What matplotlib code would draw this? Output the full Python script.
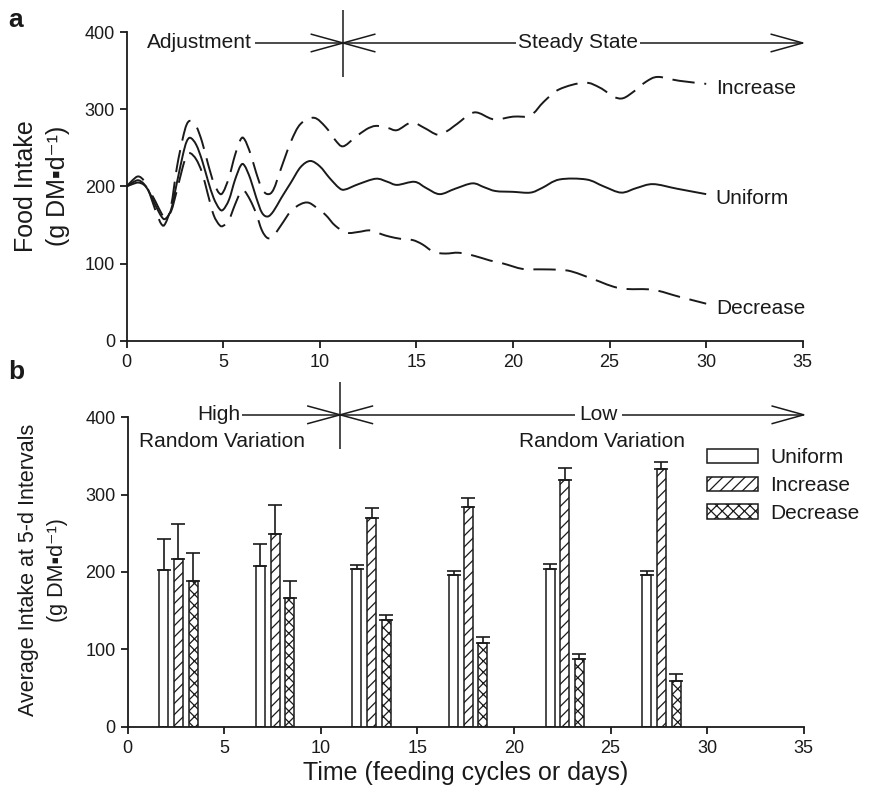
import numpy as np
import matplotlib
matplotlib.use("Agg")
import matplotlib.pyplot as plt
from matplotlib.path import Path
from matplotlib.patches import PathPatch

plt.rcParams['font.family'] = ['Liberation Sans', 'DejaVu Sans']
plt.rcParams['hatch.linewidth'] = 0.9
INK = '#1a1a1a'

# ---- Panel a: daily food intake (g DM per day) ----
uniform_t = [0, 0.3, 0.6, 0.9, 1.2, 1.5, 1.8, 2.0, 2.3, 2.6, 2.9, 3.1, 3.3, 3.6, 3.9, 4.2,
             4.5, 4.8, 5.0, 5.3, 5.6, 5.9, 6.1, 6.4, 6.7, 7.0, 7.3, 7.6, 8.0, 8.5, 9.0, 9.5,
             10.0, 10.5, 11.0, 11.3, 12.0, 12.9, 13.5, 14.0, 14.9, 15.5, 16.2, 17.0, 17.9,
             18.5, 19.1, 20.0, 20.9, 21.5, 22.4, 23.8, 24.7, 25.6, 26.4, 27.25, 28.5, 30.0]
uniform_y = [200, 205, 208, 203, 191, 175, 161, 158, 170, 205, 240, 258, 263, 254, 234, 208,
             185, 171, 170, 183, 208, 227, 227, 210, 186, 166, 161, 168, 185, 205, 225, 233,
             226, 211, 198, 196, 203, 210, 206, 202, 206, 198, 190, 197, 204,
             199, 194, 193, 192, 198, 209, 209, 200, 192, 198, 203, 197, 190]

increase_t = [0, 0.3, 0.6, 0.9, 1.2, 1.5, 1.8, 2.0, 2.3, 2.6, 2.9, 3.1, 3.3, 3.6, 3.9, 4.2,
              4.5, 4.8, 5.0, 5.3, 5.6, 5.9, 6.1, 6.4, 6.7, 7.0, 7.3, 7.6, 8.0, 8.5, 9.0, 9.7,
              10.3, 10.8, 11.2, 11.8, 12.4, 12.9, 13.5, 14.0, 14.75, 15.4, 16.1, 16.6, 17.1,
              18.0, 19.0, 20.0, 20.9, 21.6, 22.4, 23.7, 24.5, 25.2, 25.7, 26.3, 26.9, 27.5,
              28.6, 30.0]
increase_y = [200, 208, 213, 207, 190, 168, 151, 152, 175, 225, 262, 280, 285, 278, 258, 230,
              205, 191, 193, 212, 240, 261, 261, 243, 218, 197, 190, 196, 224, 258, 281, 289,
              277, 260, 252, 263, 274, 278.5, 276, 273, 283, 276, 267, 272, 281,
              296, 287, 290.5, 292, 310, 326, 334.6, 328, 316.5, 314.4, 324, 336, 342,
              337, 333]

decrease_t = [0, 0.3, 0.6, 0.9, 1.2, 1.5, 1.8, 2.0, 2.3, 2.6, 2.9, 3.1, 3.3, 3.6, 3.9, 4.2,
              4.5, 4.8, 5.0, 5.3, 5.6, 5.9, 6.1, 6.4, 6.7, 7.0, 7.3, 7.6, 8.0, 8.5, 9.0, 9.4,
              9.8, 10.3, 10.8, 11.4, 12.0, 12.6, 13.2, 13.6, 14.2, 14.8, 15.3, 15.9, 16.5,
              17.2, 18.0, 18.8, 19.5, 20.5, 21.4, 22.4, 23.0, 23.7, 24.5, 25.2, 25.9, 27.25,
              28.6, 30.0]
decrease_y = [200, 203, 205, 202, 193, 180, 165, 160, 168, 195, 225, 240, 243, 235, 218, 190,
              163, 150, 149, 157, 176, 193, 194, 182, 165, 143, 133, 136, 150, 168, 177, 179,
              173, 163, 149, 140, 141, 143, 138, 135, 132, 130.5, 125, 115, 113,
              114, 110, 104, 100, 93, 92.5, 92, 90, 84, 76.5, 70, 67, 66,
              57, 48]

# ---- Panel b: average intake over 5-day intervals ----
series_names = ['Uniform', 'Increase', 'Decrease']
group_x = [2.63, 7.63, 12.63, 17.63, 22.63, 27.63]
uniform_mean = [202, 207, 204, 196, 203.5, 196]
uniform_err = [40, 29.6, 4.6, 5, 7.3, 5]
increase_mean = [217, 249.6, 270, 284.5, 319, 333]
increase_err = [45, 37.4, 12, 11.5, 15.5, 8.4]
decrease_mean = [188, 166, 138, 108, 87, 59.5]
decrease_err = [37, 22.4, 6.4, 7.5, 7, 8.2]

x_ticks = [0, 5, 10, 15, 20, 25, 30, 35]
y_ticks = [0, 100, 200, 300, 400]
unit_label = '(g DM\u25aad\u207b\u00b9)'

fig = plt.figure(figsize=(8.69, 7.85), dpi=100)
ax_a = fig.add_axes([0.1458, 0.566, 0.778, 0.393])
ax_b = fig.add_axes([0.1469, 0.0743, 0.778, 0.3943])


def style_axes(ax):
    ax.set_xlim(0, 35)
    ax.set_ylim(0, 400)
    ax.set_xticks(x_ticks)
    ax.set_yticks(y_ticks)
    for side in ('top', 'right'):
        ax.spines[side].set_visible(False)
    for side in ('left', 'bottom'):
        ax.spines[side].set_linewidth(1.3)
        ax.spines[side].set_color(INK)
    ax.tick_params(axis='both', direction='out', length=5, width=1.3, color=INK,
                   labelsize=13, labelcolor=INK)
    ax.tick_params(axis='x', pad=4.5)
    ax.tick_params(axis='y', pad=3.5)


style_axes(ax_a)
style_axes(ax_b)


def smooth_curve(ax, xs, ys, **kw):
    """Draw a smooth line through the points as a chain of cubic Bezier segments."""
    p = np.column_stack([xs, ys]).astype(float)
    ext = np.vstack([p[0], p, p[-1]])
    verts = [p[0]]
    codes = [Path.MOVETO]
    for i in range(1, len(ext) - 2):
        c1 = ext[i] + (ext[i + 1] - ext[i - 1]) / 6.0
        c2 = ext[i + 1] - (ext[i + 2] - ext[i]) / 6.0
        verts += [c1, c2, ext[i + 1]]
        codes += [Path.CURVE4] * 3
    patch = PathPatch(Path(verts, codes), facecolor='none', edgecolor=INK,
                      transform=ax.transData, capstyle='butt', **kw)
    ax.add_patch(patch)


# Panel a curves
dash = (0, (11.5, 5))
smooth_curve(ax_a, uniform_t, uniform_y, lw=1.4)
smooth_curve(ax_a, increase_t, increase_y, lw=1.4, linestyle=dash)
smooth_curve(ax_a, decrease_t, decrease_y, lw=1.4, linestyle=dash)

label_fs = 15
ax_a.text(30.5, 326.5, 'Increase', fontsize=label_fs, color=INK, va='center', ha='left')
ax_a.text(30.5, 185, 'Uniform', fontsize=label_fs, color=INK, va='center', ha='left')
ax_a.text(30.5, 42, 'Decrease', fontsize=label_fs, color=INK, va='center', ha='left')


def phase_marker(ax, x_split, y_line, x_start, y_v0, y_v1, x_half, y_half):
    kw = dict(color=INK, lw=1.1, clip_on=False, solid_capstyle='butt')
    ax.plot([x_start, 35], [y_line, y_line], **kw)
    ax.plot([x_split, x_split], [y_v0, y_v1], **kw)
    ax.plot([x_split - x_half, x_split + x_half], [y_line + y_half, y_line - y_half], **kw)
    ax.plot([x_split - x_half, x_split + x_half], [y_line - y_half, y_line + y_half], **kw)
    ax.plot([35 - 1.67, 35, 35 - 1.67], [y_line + y_half, y_line, y_line - y_half], **kw)


# Adjustment / Steady State marker
phase_marker(ax_a, 11.2, 386, 6.64, 342, 429, 1.68, 11.6)
ax_a.text(6.5, 386, 'Adjustment', fontsize=label_fs, color=INK, ha='right', va='center',
          clip_on=False)
ax_a.text(23.37, 386, 'Steady State', fontsize=label_fs, color=INK, ha='center', va='center',
          clip_on=False, bbox=dict(facecolor='white', edgecolor='none', pad=1.5))

# Panel b bars
bar_w = 0.47
offsets = [-0.76, 0.0, 0.76]
means = [uniform_mean, increase_mean, decrease_mean]
errs = [uniform_err, increase_err, decrease_err]
hatches = ['', '///', 'xxx']
gx = np.array(group_x)
for name, m, e, h, off in zip(series_names, means, errs, hatches, offsets):
    ax_b.bar(gx + off, m, width=bar_w, facecolor='white', edgecolor=INK, linewidth=1.1,
             hatch=h, label=name, zorder=2)
    ax_b.errorbar(gx + off, m, yerr=[np.zeros(len(m)), e], fmt='none', ecolor=INK,
                  elinewidth=1.2, capsize=4.8, capthick=1.2, zorder=3)

phase_marker(ax_b, 11.0, 403, 5.92, 359, 446, 1.71, 11.6)
ax_b.text(5.82, 403, 'High', fontsize=label_fs, color=INK, ha='right', va='center',
          clip_on=False)
ax_b.text(24.37, 403, 'Low', fontsize=label_fs, color=INK, ha='center', va='center',
          clip_on=False, bbox=dict(facecolor='white', edgecolor='none', pad=3))
ax_b.text(4.86, 368, 'Random Variation', fontsize=label_fs, color=INK, ha='center',
          va='center', clip_on=False)
ax_b.text(24.55, 368, 'Random Variation', fontsize=label_fs, color=INK, ha='center',
          va='center', clip_on=False)

leg = ax_b.legend(loc='upper left', bbox_to_anchor=(0.857, 0.899), frameon=False,
                  fontsize=label_fs, handlelength=2.45, handleheight=0.7,
                  handletextpad=0.6, labelspacing=0.42, borderpad=0, borderaxespad=0)
for t in leg.get_texts():
    t.set_color(INK)

ax_b.set_xlabel('Time (feeding cycles or days)', fontsize=18, color=INK, labelpad=3)

# Two-line y labels
fig.text(26 / 869, 1 - 186 / 785, 'Food Intake', rotation=90, fontsize=18, color=INK,
         ha='center', va='center')
fig.text(58 / 869, 1 - 186 / 785, unit_label, rotation=90, fontsize=18, color=INK,
         ha='center', va='center')
fig.text(29 / 869, 1 - 570 / 785, 'Average Intake at 5-d Intervals', rotation=90,
         fontsize=15.5, color=INK, ha='center', va='center')
fig.text(57 / 869, 1 - 570 / 785, unit_label, rotation=90, fontsize=15.5, color=INK,
         ha='center', va='center')

# Panel letters
fig.text(8 / 869, 1 - 8 / 785, 'a', fontsize=19, fontweight='bold', color=INK,
         ha='left', va='top')
fig.text(8 / 869, 1 - 360 / 785, 'b', fontsize=19, fontweight='bold', color=INK,
         ha='left', va='top')

fig.savefig('out.png', dpi=100)
